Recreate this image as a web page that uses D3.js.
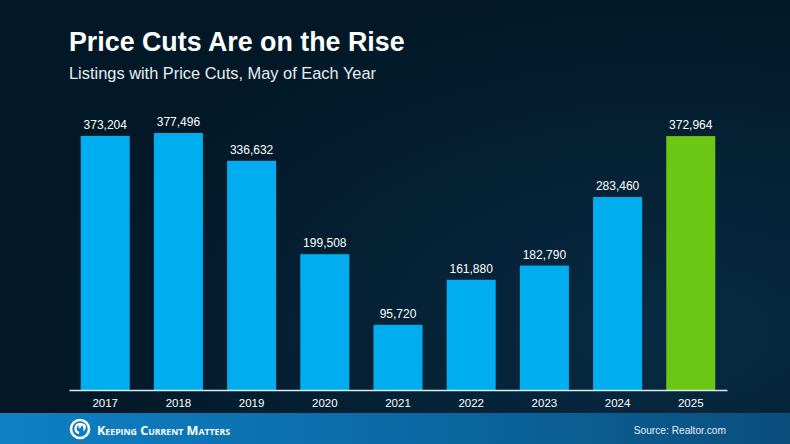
<!DOCTYPE html>
<html>
<head>
<script src="https://cdn.jsdelivr.net/npm/d3@7"></script>
<style>
	body { margin:0; background:#021a2a; }
	svg { display:block; font-family:"Liberation Sans", Arial, sans-serif; }
</style>
</head>
<body>
<div id=chart></div>
<script>

var years  = ['2017','2018','2019','2020','2021','2022','2023','2024','2025'] ;
var values = [373204, 377496, 336632, 199508, 95720, 161880, 182790, 283460, 372964] ;
var highlight = ['2025'] ;

var W = 790, H = 444 ;

var svg = d3.select("#chart").append("svg")
	.attr("width", W).attr("height", H) ;

var defs = svg.append("defs") ;
// background gradient
var bg = defs.append("radialGradient").attr("id","bg")
	.attr("cx","0.85").attr("cy","0.75").attr("r","0.8") ;
bg.append("stop").attr("offset","0").attr("stop-color","#082a42") ;
bg.append("stop").attr("offset","1").attr("stop-color","#021827") ;
var ft = defs.append("linearGradient").attr("id","ft") ;
ft.append("stop").attr("offset","0").attr("stop-color","#0e80c4") ;
ft.append("stop").attr("offset","0.5").attr("stop-color","#0b6aa6") ;
ft.append("stop").attr("offset","1").attr("stop-color","#0a4e7c") ;

svg.append("rect").attr("width", W).attr("height", H).attr("fill","url(#bg)") ;

// titles
svg.append("text").attr("x",69).attr("y",51)
	.attr("fill","#fff").attr("font-size",26.8).attr("font-weight","bold")
	.text("Price Cuts Are on the Rise") ;
svg.append("text").attr("x",69).attr("y",79)
	.attr("fill","#e8eef2").attr("font-size",16.4)
	.text("Listings with Price Cuts, May of Each Year") ;

// scales
var x = d3.scaleBand().domain(years).range([69, 727])
	.paddingInner(0.33).paddingOuter(0.16) ;
var y = d3.scaleLinear().domain([0, 377496]).range([390, 133]) ;

svg.selectAll("rect.bar").data(years).enter().append("rect")
	.attr("class","bar")
	.attr("x", function(d){ return x(d) })
	.attr("width", x.bandwidth())
	.attr("y", function(d,i){ return y(values[i]) })
	.attr("height", function(d,i){ return y(0) - y(values[i]) })
	.attr("fill", function(d){ return highlight.indexOf(d) >= 0 ? "#6cc614" : "#00aeef" }) ;

svg.selectAll("text.val").data(years).enter().append("text")
	.attr("class","val")
	.attr("x", function(d){ return x(d) + x.bandwidth()/2 })
	.attr("y", function(d,i){ return y(values[i]) - 7 })
	.attr("text-anchor","middle").attr("fill","#fff").attr("font-size",12)
	.text(function(d,i){ return d3.format(",")(values[i]) }) ;

// x axis
var xAxis = svg.append("g").attr("transform","translate(0,390)")
	.call(d3.axisBottom(x).tickSize(0).tickPadding(9)) ;
xAxis.select(".domain").attr("stroke","#d8ecf6").attr("stroke-width",1.5) ;
xAxis.selectAll("text").attr("fill","#fff").attr("font-size",11.5)
	.attr("font-family","Liberation Sans, Arial, sans-serif") ;

// footer
svg.append("rect").attr("y",413).attr("width",W).attr("height",H-413).attr("fill","url(#ft)") ;
var logo = svg.append("g").attr("transform","translate(80,429)") ;
logo.append("circle").attr("r",9).attr("fill","none").attr("stroke","#fff").attr("stroke-width",2.6) ;
logo.append("path").attr("d","M-1,4 A4.5,4.5 0 1,1 4.5,-1 A2.5,2.5 0 1,0 0,-1")
	.attr("fill","none").attr("stroke","#fff").attr("stroke-width",2.4) ;
svg.append("text").attr("x",97).attr("y",435).attr("fill","#fff")
	.attr("font-family","Open Sans, sans-serif").attr("font-weight","bold")
	.attr("font-size",13).style("font-variant","small-caps")
	.attr("textLength",133).attr("lengthAdjust","spacingAndGlyphs")
	.text("Keeping Current Matters") ;
svg.append("text").attr("x",726).attr("y",434).attr("text-anchor","end")
	.attr("fill","#e6eef4").attr("font-size",10.2).text("Source: Realtor.com") ;

</script>
</body>
</html>
